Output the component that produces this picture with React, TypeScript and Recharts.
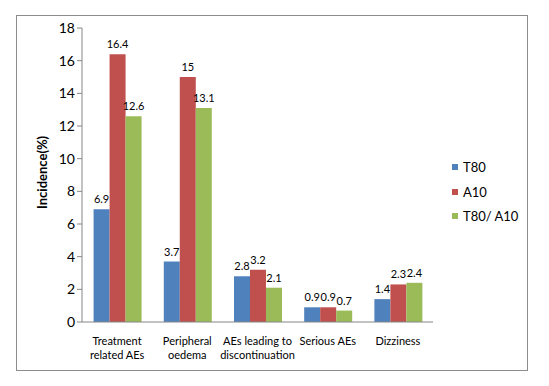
import React from "react";
import {
  BarChart,
  Bar,
  XAxis,
  YAxis,
  LabelList,
  Legend,
} from "recharts";

const categories = [
  "Treatment related AEs",
  "Peripheral oedema",
  "AEs leading to discontinuation",
  "Serious AEs",
  "Dizziness",
];
const categoryLines = [
  ["Treatment", "related AEs"],
  ["Peripheral", "oedema"],
  ["AEs leading to", "discontinuation"],
  ["Serious AEs"],
  ["Dizziness"],
];
const t80 = [6.9, 3.7, 2.8, 0.9, 1.4];
const a10 = [16.4, 15, 3.2, 0.9, 2.3];
const combo = [12.6, 13.1, 2.1, 0.7, 2.4];
const yTicks = [0, 2, 4, 6, 8, 10, 12, 14, 16, 18];
const boundaryTicks = [0, 1, 2, 3, 4, 5];

const seriesInfo = [
  { key: "t80", name: "T80", color: "#4F81BD" },
  { key: "a10", name: "A10", color: "#C0504D" },
  { key: "combo", name: "T80/ A10", color: "#9BBB59" },
];

const data = categories.map((c, i) => ({
  name: c,
  idx: i,
  t80: t80[i],
  a10: a10[i],
  combo: combo[i],
}));

const FONT = "Lato, 'Open Sans', sans-serif";

function CategoryTick(props: any) {
  const { x, y, payload } = props;
  const lines = categoryLines[payload.index] || [payload.value];
  return (
    <text x={x} y={y} textAnchor="middle" fontSize={11} fill="#000" fontFamily={FONT}>
      {lines.map((l: string, k: number) => (
        <tspan key={k} x={x} dy={k === 0 ? 15 : 14}>
          {l}
        </tspan>
      ))}
    </text>
  );
}

function LegendBox() {
  return (
    <div style={{ fontFamily: FONT, fontSize: 13, color: "#000" }}>
      {seriesInfo.map((s) => (
        <div key={s.key} style={{ display: "flex", alignItems: "center", height: 24.5 }}>
          <span
            style={{
              display: "inline-block",
              width: 6,
              height: 6,
              background: s.color,
              marginRight: 5,
            }}
          />
          {s.name}
        </div>
      ))}
    </div>
  );
}

export default function App() {
  return (
    <div style={{ position: "absolute", left: 0, top: 0, width: 549, height: 386, background: "#fff" }}>
      <div
        style={{
          position: "absolute",
          left: 16,
          top: 15,
          width: 510,
          height: 354,
          border: "1px solid #8c8c8c",
        }}
      />
      <div style={{ position: "absolute", left: 0, top: 0 }}>
        <BarChart
          width={549}
          height={386}
          data={data}
          margin={{ top: 28, right: 116, bottom: 24, left: 42 }}
          barCategoryGap="16.5%"
          barGap={0}
        >
          <XAxis
            xAxisId="edges"
            type="number"
            domain={[0, 5]}
            ticks={boundaryTicks}
            tick={false}
            tickLine={{ stroke: "#868686" }}
            tickSize={5}
            axisLine={false}
            height={0}
          />
          <XAxis
            dataKey="name"
            xAxisId={0}
            height={40}
            tick={<CategoryTick />}
            tickLine={false}
            axisLine={{ stroke: "#868686" }}
            interval={0}
          />
          <YAxis
            width={40}
            domain={[0, 18]}
            ticks={yTicks}
            interval={0}
            tickSize={5}
            tick={{ fill: "#000", fontSize: 14, fontFamily: FONT }}
            tickLine={{ stroke: "#868686" }}
            axisLine={{ stroke: "#868686" }}
            label={{
              value: "Incidence(%)",
              angle: -90,
              position: "insideLeft",
              dx: -5,
              dy: 34,
              style: { fontWeight: "bold", fontSize: 13, fill: "#000", fontFamily: FONT },
            }}
          />
          <Legend
            layout="vertical"
            verticalAlign="middle"
            align="center"
            wrapperStyle={{ left: 452, top: 155, width: 90 }}
            content={<LegendBox />}
          />
          {seriesInfo.map((s) => (
            <Bar
              key={s.key}
              dataKey={s.key}
              name={s.name}
              fill={s.color}
              xAxisId={0}
              isAnimationActive={false}
            >
              <LabelList
                dataKey={s.key}
                position="top"
                offset={6}
                style={{ fontSize: 11, fill: "#000", fontFamily: FONT }}
              />
            </Bar>
          ))}
        </BarChart>
      </div>
    </div>
  );
}
